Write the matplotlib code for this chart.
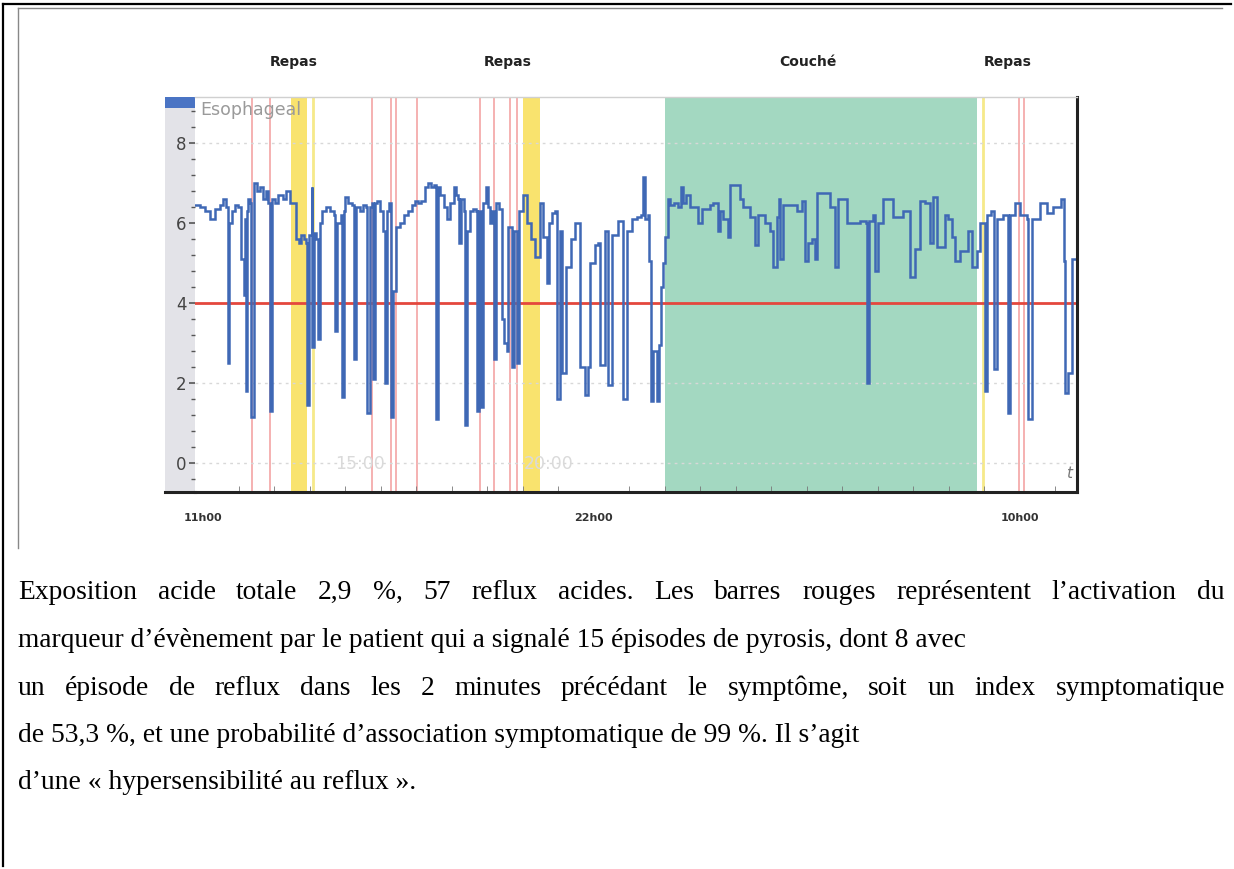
import matplotlib
matplotlib.use("Agg")
import matplotlib.pyplot as plt
import matplotlib.transforms as mtransforms
from matplotlib.patches import Rectangle
from matplotlib.lines import Line2D
from matplotlib.ticker import MultipleLocator

W, H = 1234, 869

# pH trace, time in minutes since 11h00
t_min = [
    -14, -5, 3, 12, 20, 29, 34, 39, 41, 44, 49, 54, 59, 63, 68, 71, 73, 74, 76, 79,
    81, 85, 86, 91, 96, 101, 106, 110, 113, 117, 122, 127, 134, 140, 147, 152, 157, 161, 166, 171,
    174, 176, 179, 183, 184, 188, 191, 194, 198, 201, 208, 215, 221, 223, 226, 232, 235, 238, 240, 245,
    252, 254, 255, 259, 265, 270, 275, 277, 281, 286, 287, 291, 294, 299, 304, 308, 311, 314, 318, 321,
    326, 333, 340, 346, 353, 358,
    363, 368, 375, 380, 385, 390, 394, 397, 401, 407, 412, 417, 423, 428, 431, 433, 436, 441, 443, 446,
    451, 456, 461, 463, 466, 470, 473, 478, 482, 485, 488, 492, 495, 500, 505, 509, 514, 515, 519, 522,
    526, 531, 534, 541, 548, 554, 561, 570, 575, 581, 585, 590, 595, 598, 603, 607, 613, 622, 629, 635,
    637, 646, 651, 654, 662, 668, 671, 679, 684, 691, 701, 710, 717, 725, 733, 740, 744,
    747, 752, 754, 757, 761, 764, 767, 770, 774, 777, 781, 786, 789, 796, 803, 808, 811, 816, 823, 837,
    843, 857, 862, 870, 874, 879, 887, 891, 907, 913, 924, 933, 938, 950, 958, 963, 970, 973, 975, 980,
    1004, 1012, 1017, 1022, 1029, 1034, 1038, 1060, 1068, 1073, 1088, 1110, 1120, 1122, 1126, 1132, 1136, 1141, 1149, 1166,
    1183, 1195, 1203, 1212, 1220, 1229, 1234, 1240, 1254, 1259, 1266, 1271, 1279, 1293, 1300, 1308, 1313, 1322, 1325, 1332,
    1337, 1342, 1352, 1360, 1364, 1372, 1381, 1393, 1394, 1401, 1415, 1426, 1437, 1450, 1455, 1457, 1462, 1469, 1477,
]
ph = [
    6.45, 6.4, 6.3, 6.1, 6.35, 6.45, 6.6, 6.4, 2.5, 6.0, 6.3, 6.45, 6.4, 5.1, 4.2, 6.1, 1.8, 6.3, 6.6, 6.5,
    1.15, 6.6, 7.0, 6.8, 6.9, 6.6, 6.8, 6.5, 1.3, 6.6, 6.5, 6.7, 6.6, 6.8, 6.5, 6.5, 5.6, 5.5, 5.7, 5.6,
    5.5, 1.45, 5.7, 6.9, 2.9, 5.75, 5.6, 3.1, 6.0, 6.3, 6.4, 6.3, 6.2, 3.3, 6.0, 6.2, 1.65, 6.3, 6.65, 6.5,
    6.45, 3.5, 2.6, 6.4, 6.3, 6.45, 6.4, 1.25, 6.4, 6.5, 2.1, 6.5, 6.55, 6.3, 5.8, 2.0, 6.3, 6.5, 1.15, 4.3,
    5.9, 6.0, 6.2, 6.3, 6.45, 6.55,
    6.5, 6.55, 6.9, 7.0, 6.9, 6.95, 1.1, 6.9, 6.7, 6.4, 6.1, 6.5, 6.9, 6.7, 6.6, 5.5, 6.6, 6.3, 0.95, 5.8,
    6.3, 6.35, 6.3, 1.3, 6.3, 1.4, 6.5, 6.9, 6.4, 6.0, 6.3, 2.6, 6.5, 6.35, 3.6, 3.0, 2.8, 5.9, 5.9, 2.4,
    5.8, 2.5, 6.3, 6.7, 6.0, 5.6, 5.15, 6.5, 5.65, 4.5, 6.0, 6.25, 6.3, 1.6, 5.8, 2.25, 4.9, 5.6, 6.0, 6.0,
    2.4, 1.7, 2.4, 5.0, 5.45, 5.5, 2.45, 5.8, 1.95, 5.7, 6.05, 1.6, 5.8, 6.1, 6.15, 6.2, 7.15,
    6.1, 6.2, 5.05, 1.55, 2.8, 2.8, 1.55, 2.95, 4.4, 5.0, 5.65, 6.6, 6.45, 6.5, 6.4, 6.9, 6.5, 6.7, 6.4, 6.0,
    6.35, 6.45, 6.5, 5.8, 6.3, 6.1, 5.65, 6.95, 6.6, 6.4, 6.15, 5.45, 6.2, 6.0, 5.8, 4.9, 6.15, 6.6, 5.1, 6.45,
    6.3, 6.55, 5.05, 5.5, 5.6, 5.1, 6.75, 6.4, 4.9, 6.6, 6.0, 6.05, 6.0, 2.0, 6.05, 6.2, 4.8, 6.0, 6.6, 6.15,
    6.3, 4.65, 5.35, 6.55, 6.5, 5.5, 6.65, 5.4, 6.2, 6.1, 5.65, 5.05, 5.3, 5.8, 4.9, 5.3, 6.0, 1.8, 6.2, 6.3,
    2.35, 6.1, 6.2, 1.25, 6.2, 6.5, 6.2, 6.1, 1.1, 6.1, 6.5, 6.25, 6.4, 6.6, 5.05, 1.75, 2.25, 5.1, 5.5,
]

# symptom markers (minutes since 11h00)
events_min = [83, 113, 286, 318, 326, 362, 468, 492, 519, 531, 1379, 1387]
pale_marks = [186, 1318]
meal_spans = [(149, 176), (541, 570)]
supine_span = (781, 1308)

top_labels = ["Repas", "Repas", "Couché", "Repas"]
top_label_pos = [152, 514, 1022, 1360]
hour_ticks = [0, 660, 1380]
hour_labels = ["11h00", "22h00", "10h00"]
ph_threshold = 4

caption = [
    "Exposition acide totale 2,9 %, 57 reflux acides. Les barres rouges représentent l’activation du",
    "marqueur d’évènement par le patient qui a signalé 15 épisodes de pyrosis, dont 8 avec",
    "un épisode de reflux dans les 2 minutes précédant le symptôme, soit un index symptomatique",
    "de 53,3 %, et une probabilité d’association symptomatique de 99 %. Il s’agit",
    "d’une « hypersensibilité au reflux ».",
]
justified = [True, False, True, False, False]


def fx(px):
    return px / W


def fy(py):
    return 1 - py / H


fig = plt.figure(figsize=(W / 100, H / 100), dpi=100)
fig.patch.set_facecolor("white")

# page frames
fig.add_artist(Line2D([fx(3), fx(3)], [fy(4), fy(866)], color="black", lw=1.6))
fig.add_artist(Line2D([fx(3), fx(1231)], [fy(4), fy(4)], color="black", lw=1.6))
fig.add_artist(Line2D([fx(18), fx(18)], [fy(8), fy(548)], color="#888888", lw=1.0))
fig.add_artist(Line2D([fx(18), fx(1222)], [fy(8), fy(8)], color="#888888", lw=1.0))

# grey y-axis strip of the recorder software
fig.add_artist(Rectangle((fx(165), fy(492)), fx(30), (492 - 108) / H,
                         color="#e3e3e8", lw=0, zorder=0))
fig.add_artist(Rectangle((fx(165), fy(108)), fx(30), 11 / H,
                         color="#4a74c4", lw=0, zorder=0))

ax = fig.add_axes([fx(195), fy(492), (1077 - 195) / W, (492 - 97) / H])
ax.set_xlim(-14, 1477)
ax.set_ylim(-0.72, 9.15)

ax.axvspan(*supine_span, color="#a3d8c1", lw=0, zorder=0)
for a, b in meal_spans:
    ax.axvspan(a, b, color="#f9e36e", lw=0, zorder=0.5)
for m in pale_marks:
    ax.axvline(m, color="#f6e98a", lw=2, zorder=0.6)
for m in events_min:
    ax.axvline(m, color="#f29c9c", lw=1.1, zorder=0.7)

for g in [0, 2, 8]:
    ax.axhline(g, color="#d8d8d8", lw=1, ls=(0, (2, 3)), zorder=0.8)

ax.axhline(ph_threshold, color="#e4473d", lw=2, zorder=1)
ax.plot(t_min, ph, color="#3f68b5", lw=1.8, zorder=2, drawstyle="steps-post",
        solid_joinstyle="miter")

ax.set_yticks([0, 2, 4, 6, 8])
ax.yaxis.set_minor_locator(MultipleLocator(0.4))
ax.tick_params(axis="y", which="major", direction="out", length=4, width=1.2,
               color="#555555", labelsize=12, labelcolor="#444444", pad=2)
ax.tick_params(axis="y", which="minor", direction="out", length=3, width=1,
               color="#555555")

ax.set_xticks(hour_ticks)
ax.set_xticklabels(hour_labels, fontsize=8, fontweight="bold", color="#333333")
ax.xaxis.set_minor_locator(MultipleLocator(60))
ax.tick_params(axis="x", which="major", length=0, pad=15)
ax.tick_params(axis="x", which="minor", direction="in", length=4, color="#777777")

ax.spines["left"].set_visible(False)
ax.spines["top"].set_color("#d0d0d0")
ax.spines["top"].set_linewidth(1)
ax.spines["right"].set_color("#222222")
ax.spines["right"].set_linewidth(2.2)
ax.spines["bottom"].set_color("#222222")
ax.spines["bottom"].set_linewidth(2.2)
fig.add_artist(Line2D([fx(165), fx(195)], [fy(492), fy(492)], color="#222222", lw=2.2))

ax.text(0.006, 0.967, "Esophageal", transform=ax.transAxes, fontsize=12.5,
        color="#9a9a9a", ha="left", va="center")
ax.text(265, -0.02, "15:00", fontsize=12.5, color="#dadada", ha="center", va="center")
ax.text(583, -0.02, "20:00", fontsize=12.5, color="#dadada", ha="center", va="center")
ax.text(1463, -0.25, "t", fontsize=11, color="#777777", style="italic",
        ha="center", va="center")

trans = mtransforms.blended_transform_factory(ax.transData, fig.transFigure)
for lab, pos in zip(top_labels, top_label_pos):
    ax.text(pos, fy(62), lab, transform=trans, fontsize=10, fontweight="bold",
            color="#222222", ha="center", va="center")

# caption below the chart
renderer = fig.canvas.get_renderer()
baselines = [599, 647, 695, 742, 789]
cap_kw = dict(fontsize=19.8, family="Liberation Serif", color="black", va="baseline")
for text, y, just in zip(caption, baselines, justified):
    if not just:
        fig.text(fx(18), fy(y), text, ha="left", **cap_kw)
        continue
    words = text.split(" ")
    items = [fig.text(0, fy(y), w, ha="left", **cap_kw) for w in words]
    widths = [it.get_window_extent(renderer).width for it in items]
    gap = (1225 - 18 - sum(widths)) / (len(words) - 1)
    x = 18
    for it, w in zip(items, widths):
        it.set_x(fx(x))
        x += w + gap

fig.savefig("out.png", dpi=100)
